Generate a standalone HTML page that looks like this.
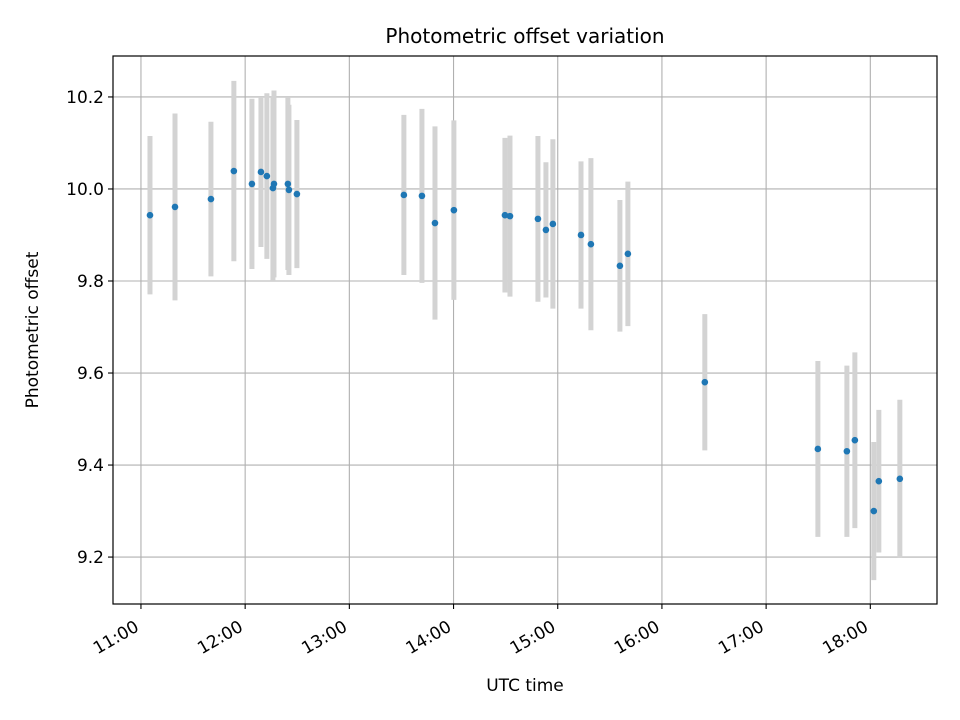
<!DOCTYPE html>
<html><head><meta charset="utf-8"><style>
html,body{margin:0;padding:0;background:#fff}
svg{display:block;font-family:"DejaVu Sans","Liberation Sans",sans-serif}
</style></head><body>
<svg id="chart" width="960" height="720" viewBox="0 0 960 720" xmlns="http://www.w3.org/2000/svg">
<rect width="960" height="720" fill="#fff"/>
<text x="525" y="43" text-anchor="middle" font-size="20" fill="#000">Photometric offset variation</text>
<text x="525" y="691" text-anchor="middle" font-size="17" fill="#000">UTC time</text>
<text transform="translate(38,330) rotate(-90)" text-anchor="middle" font-size="17" fill="#000">Photometric offset</text>
<g id="grid"></g>
<g id="bars"></g>
<g id="points"></g>
<rect x="113" y="56" width="824" height="548" fill="none" stroke="#000" stroke-width="1.2"/>
<g id="ticks"></g>
</svg>
<script>
// minutes since midnight UTC
const times = [665.2,679.6,700.3,713.5,723.9,729.1,732.5,736.6,736.0,744.6,745.2,749.8,811.4,821.8,829.3,840.2,869.6,872.5,888.6,893.2,897.2,913.4,919.1,935.8,940.4,984.7,1049.8,1066.5,1071.1,1082.0,1084.9,1097.0];
const offsets = [9.943,9.961,9.978,10.039,10.011,10.037,10.028,10.011,10.002,10.011,9.998,9.989,9.987,9.985,9.926,9.954,9.943,9.941,9.935,9.911,9.924,9.900,9.880,9.833,9.859,9.580,9.435,9.430,9.454,9.300,9.365,9.370];
const errors = [0.172,0.203,0.168,0.196,0.185,0.163,0.180,0.203,0.200,0.187,0.185,0.161,0.174,0.189,0.210,0.195,0.168,0.175,0.180,0.147,0.184,0.160,0.187,0.143,0.157,0.148,0.191,0.186,0.191,0.150,0.155,0.172];
const xTickLabels = ["11:00","12:00","13:00","14:00","15:00","16:00","17:00","18:00"];
const yTickLabels = ["9.2","9.4","9.6","9.8","10.0","10.2"];

const NS="http://www.w3.org/2000/svg";
const X0=113,X1=937,Y0=56,Y1=604;
const xMin=643.9,xMax=1118.4,yMin=9.098,yMax=10.289;
const xs=v=>X0+(v-xMin)/(xMax-xMin)*(X1-X0);
const ys=v=>Y1-(v-yMin)/(yMax-yMin)*(Y1-Y0);
function mk(tag,attrs,parent){const e=document.createElementNS(NS,tag);for(const k in attrs)e.setAttribute(k,attrs[k]);document.getElementById(parent).appendChild(e);return e;}
const toMin=s=>{const p=s.split(":");return +p[0]*60+ +p[1];};

xTickLabels.forEach(l=>{
  const x=xs(toMin(l));
  const g=mk("line",{x1:x,x2:x,y1:Y0,y2:Y1,stroke:"#b0b0b0","stroke-width":1.1},"grid");
  
  
  const t=mk("line",{x1:x,x2:x,y1:Y1,y2:Y1+5,stroke:"#000","stroke-width":1.1},"ticks");
  
  
  const tx=mk("text",{x:0,y:0,"text-anchor":"end","font-size":"17",fill:"#000",transform:`translate(${x-1},${Y1+26}) rotate(-30)`},"ticks");
  tx.textContent=l;
  
  
});
yTickLabels.forEach(l=>{
  const y=ys(+l);
  const g=mk("line",{x1:X0,x2:X1,y1:y,y2:y,stroke:"#b0b0b0","stroke-width":1.1},"grid");
  
  
  const t=mk("line",{x1:X0-5,x2:X0,y1:y,y2:y,stroke:"#000","stroke-width":1.1},"ticks");
  
  
  const tx=mk("text",{x:X0-9,y:y+6,"text-anchor":"end","font-size":"17",fill:"#000"},"ticks");
  tx.textContent=l;
  
  
});
times.forEach((t,i)=>{
  const x=xs(t);
  const b=mk("line",{x1:x,x2:x,y1:ys(offsets[i]+errors[i]),y2:ys(offsets[i]-errors[i]),stroke:"#d3d3d3","stroke-width":5},"bars");
  
  
});
times.forEach((t,i)=>{
  const c=mk("circle",{cx:xs(t),cy:ys(offsets[i]),r:3.3,fill:"#1f77b4"},"points");
  
  
});
</script>
</body></html>
